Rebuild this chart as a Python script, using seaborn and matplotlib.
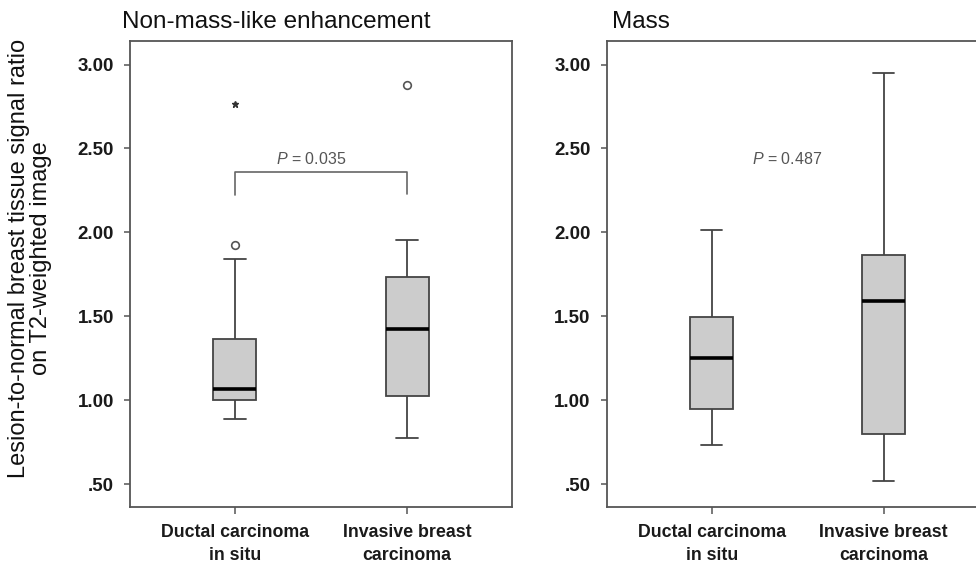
import numpy as np
import pandas as pd
import matplotlib
matplotlib.use("Agg")
import matplotlib.pyplot as plt
import seaborn as sns

# ---------------------------------------------------------
# DATA
# five-number summaries: whisker low, Q1, median, Q3, whisker high
# ---------------------------------------------------------

categories = ["Ductal carcinoma\nin situ", "Invasive breast\ncarcinoma"]

nme_dcis = [0.89, 1.00, 1.065, 1.365, 1.84]
nme_ibc = [0.775, 1.026, 1.426, 1.733, 1.957]

mass_dcis = [0.737, 0.949, 1.252, 1.494, 2.015]
mass_ibc = [0.521, 0.797, 1.591, 1.866, 2.948]

# outliers (circle) and extreme values (star), non-mass panel
nme_outlier_cat = [0, 1]
nme_outlier_val = [1.925, 2.877]
nme_extreme_cat = [0]
nme_extreme_val = [2.764]

y_ticks = [3.0, 2.5, 2.0, 1.5, 1.0, 0.5]
y_ticklabels = ["3.00", "2.50", "2.00", "1.50", "1.00", ".50"]

p_nme = "0.035"
p_mass = "0.487"
bracket_top = 2.362
bracket_left_end = 2.22
bracket_right_end = 2.228

# ---------------------------------------------------------
# STYLE
# ---------------------------------------------------------

sns.set_style("white")
plt.rcParams["font.family"] = ["Liberation Sans", "DejaVu Sans"]
plt.rcParams["mathtext.fontset"] = "custom"
plt.rcParams["mathtext.it"] = "Liberation Sans:italic"
plt.rcParams["mathtext.rm"] = "Liberation Sans"

frame_col = "#555555"
box_fill = "#cccccc"
line_col = "#444444"
p_col = "#555555"

fig = plt.figure(figsize=(9.76, 5.68), dpi=100)

ax_w = 382 / 976
ax_h = (507 - 41) / 568
ax1 = fig.add_axes([130 / 976, 1 - 507 / 568, ax_w, ax_h])
ax2 = fig.add_axes([606.7 / 976, 1 - 507 / 568, ax_w, ax_h])


def make_df(a, b):
    return pd.DataFrame({
        "group": [categories[0]] * len(a) + [categories[1]] * len(b),
        "ratio": a + b,
    })


def draw_panel(ax, df):

    sns.boxplot(
        data=df,
        x="group",
        y="ratio",
        order=categories,
        ax=ax,
        whis=(0, 100),
        width=0.25,
        color=box_fill,
        saturation=1,
        linecolor=line_col,
        linewidth=1.3,
        showfliers=False,
        medianprops=dict(color="black", linewidth=2.6),
    )

    ax.set_xlim(-0.61, 1.61)
    ax.set_ylim(0.365, 3.14)
    ax.set_yticks(y_ticks)
    ax.set_yticklabels(y_ticklabels, fontsize=13.5, fontweight="bold", color="#1a1a1a")
    ax.set_xticks([0, 1])
    ax.set_xticklabels(categories, fontsize=12.8, fontweight="bold",
                       color="#1a1a1a", linespacing=1.45)
    ax.set_xlabel("")
    ax.set_ylabel("")

    for s in ax.spines.values():
        s.set_visible(True)
        s.set_color(frame_col)
        s.set_linewidth(1.3)

    ax.tick_params(axis="y", direction="out", length=4.5, width=1.1,
                   color=frame_col, pad=7, left=True)
    ax.tick_params(axis="x", direction="out", length=5, width=1.1,
                   color=frame_col, pad=7, bottom=True)


draw_panel(ax1, make_df(nme_dcis, nme_ibc))
draw_panel(ax2, make_df(mass_dcis, mass_ibc))

# outliers
ax1.plot(nme_outlier_cat, nme_outlier_val, linestyle="none", marker="o",
         markersize=5.5, markerfacecolor="white", markeredgecolor="#555555",
         markeredgewidth=1.2)
ax1.plot(nme_extreme_cat, nme_extreme_val, linestyle="none", marker="*",
         markersize=5, color="#333333")

# significance bracket
ax1.plot([0, 0, 1, 1],
         [bracket_left_end, bracket_top, bracket_top, bracket_right_end],
         color="#666666", linewidth=1.2)
ax1.text(0.44, 2.44, r"$\it{P}$ = " + p_nme, ha="center", va="center",
         fontsize=11.5, color=p_col)
ax2.text(0.44, 2.44, r"$\it{P}$ = " + p_mass, ha="center", va="center",
         fontsize=11.5, color=p_col)

# titles
fig.text(122 / 976, 1 - 22 / 568, "Non-mass-like enhancement",
         fontsize=17.5, ha="left", va="center", color="#111111")
fig.text(612 / 976, 1 - 22 / 568, "Mass",
         fontsize=17.5, ha="left", va="center", color="#111111")

# shared y label
fig.text(30 / 976, 1 - 258 / 568,
         "Lesion-to-normal breast tissue signal ratio\non T2-weighted image",
         rotation=90, ha="center", va="center", multialignment="center",
         fontsize=17, color="#111111", linespacing=1.0)

fig.savefig("out.png", dpi=100)
